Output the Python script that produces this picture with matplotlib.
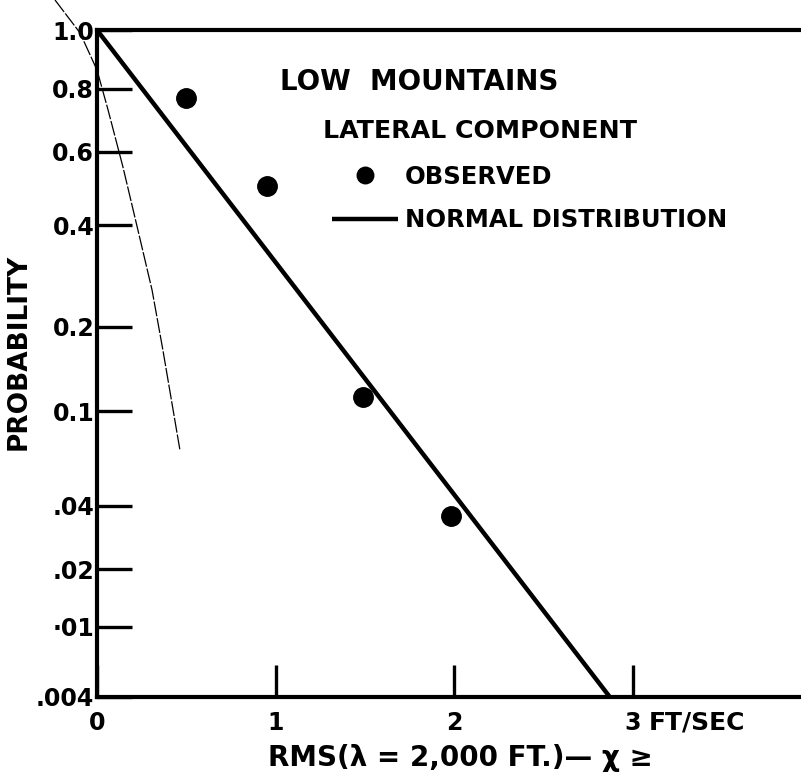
import math
from statistics import NormalDist

import numpy as np
import matplotlib
matplotlib.use('Agg')
from matplotlib import pyplot as plt
from matplotlib.ticker import FixedLocator, NullLocator

plt.rcParams['font.family'] = ['DejaVu Sans']
plt.rcParams['font.weight'] = 'bold'

# observed exceedance probabilities
obs_x = [0.50, 0.95, 1.49, 1.98]
obs_p = [0.77, 0.50, 0.113, 0.036]

# normal distribution plots as a straight line on this paper
normal_x = [0.0, 2.87]
normal_p = [1.0, 0.004]

# thin dashed curve near the probability axis
dashed_x = [-0.235, -0.095, 0.0, 0.062, 0.145, 0.229, 0.308, 0.369, 0.464]
dashed_p = [1.103, 0.990, 0.863, 0.730, 0.555, 0.388, 0.262, 0.167, 0.070]

y_ticks = [1.0, 0.8, 0.6, 0.4, 0.2, 0.1, 0.04, 0.02, 0.01, 0.004]
y_labels = ['1.0', '0.8', '0.6', '0.4', '0.2', '0.1', '.04', '.02', '·01', '.004']
x_ticks = [0, 1, 2, 3]
x_labels = ['0', '1', '2', '3']

nd = NormalDist()


# probability of |x| exceeding a value -> standard normal deviate
def prob_to_z(p):
    p = np.clip(np.asarray(p, dtype=float), 1e-9, 2 - 1e-9)
    return np.vectorize(lambda v: nd.inv_cdf(1 - v / 2), otypes=[float])(p)


def z_to_prob(z):
    z = np.asarray(z, dtype=float)
    return np.vectorize(lambda v: math.erfc(v / math.sqrt(2)), otypes=[float])(z)


fig = plt.figure(figsize=(8.01, 7.81), dpi=100)
ax = fig.add_axes([97 / 801, 84 / 781, 704 / 801, 667 / 781])
ax.set_yscale('function', functions=(prob_to_z, z_to_prob))

ax.plot(dashed_x, dashed_p, color='black', lw=0.9, ls=(0, (12, 1.5)), clip_on=False)
line, = ax.plot(normal_x, normal_p, color='black', lw=3.2, solid_capstyle='butt',
                label='NORMAL DISTRIBUTION')
dots, = ax.plot(obs_x, obs_p, 'o', color='black', ms=14, label='OBSERVED')

ax.set_xlim(0, 3.94)
ax.set_ylim(0.004, 1.0)
ax.invert_yaxis()

ax.yaxis.set_major_locator(FixedLocator(y_ticks))
ax.yaxis.set_minor_locator(NullLocator())
ax.set_yticklabels(y_labels)
ax.set_xticks(x_ticks)
ax.set_xticklabels(x_labels)

ax.tick_params(axis='y', direction='in', length=25, width=2.4, pad=2, labelsize=17)
ax.tick_params(axis='x', direction='in', length=23, width=2.4, pad=10, labelsize=17)

for side in ['left', 'top', 'bottom']:
    ax.spines[side].set_linewidth(3.0)
ax.spines['right'].set_visible(False)

ax.annotate('FT/SEC', xy=(3, 0), xycoords=('data', 'axes fraction'),
            xytext=(11, -10), textcoords='offset points',
            ha='left', va='top', fontsize=18, fontweight='bold')

ax.set_xlabel('RMS(λ = 2,000 FT.)— χ ≥', fontsize=20, fontweight='bold')
ax.xaxis.set_label_coords(0.516, -0.07)
ax.set_ylabel('PROBABILITY', fontsize=19, fontweight='bold')
ax.yaxis.set_label_coords(-0.093, 0.517)

fig.text(280 / 801, 1 - 82 / 781, 'LOW  MOUNTAINS', fontsize=20,
         fontweight='bold', va='center', ha='left')
fig.text(323 / 801, 1 - 131 / 781, 'LATERAL COMPONENT', fontsize=18.2,
         fontweight='bold', va='center', ha='left')

ax.legend([dots, line], ['OBSERVED', 'NORMAL DISTRIBUTION'],
          loc='upper left', bbox_to_anchor=(332 / 801, 1 - 165 / 781),
          bbox_transform=fig.transFigure, frameon=False, borderpad=0,
          borderaxespad=0, handlelength=2.7, handletextpad=0.3,
          labelspacing=0.8, markerscale=0.85,
          prop={'size': 17.5, 'weight': 'bold'})

fig.savefig('out.png', dpi=100)
